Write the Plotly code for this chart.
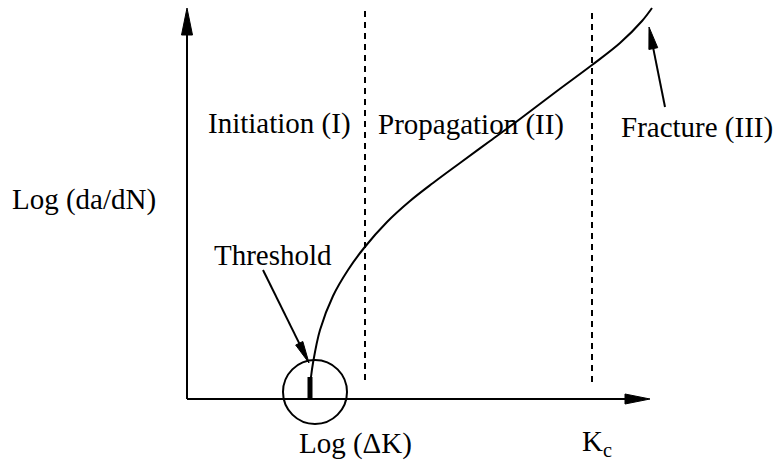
import math
import plotly.graph_objects as go

# Schematic crack-growth curve: log(ΔK) on x, log(da/dN) on y (arbitrary units)
log_dk = [124, 126, 133, 146, 161, 177, 200, 223, 246, 273, 303, 333, 370, 405,
          433, 455, 465]
log_dadn = [22, 36, 69, 103, 129, 151, 177, 198, 216, 236, 258, 280, 308, 334,
            356, 378, 391]

# Threshold marker and regime boundaries
threshold_x = 123
threshold_top = 22
boundary_x = [178, 405]
boundary_top = 389
boundary_bottom = [19, 17]

# Axis extents (arrow tips)
x_axis_end = 463
y_axis_end = 391

regime_labels = ["Initiation (I)", "Propagation (II)", "Fracture (III)"]

FONT = dict(family="Liberation Serif, Times New Roman, serif", size=29, color="black")
LW = 2

fig = go.Figure()

# Main curve
fig.add_trace(go.Scatter(
    x=log_dk, y=log_dadn, mode="lines",
    line=dict(color="black", width=LW, shape="spline", smoothing=1.0),
    hoverinfo="skip", showlegend=False,
))

shapes = []


def arrow(x0, y0, x1, y1, head_len, head_w, width=LW):
    """Line from (x0,y0) to (x1,y1) ending in a filled triangular head."""
    dx, dy = x1 - x0, y1 - y0
    d = math.hypot(dx, dy)
    ux, uy = dx / d, dy / d
    bx, by = x1 - ux * head_len, y1 - uy * head_len
    px, py = -uy * head_w / 2, ux * head_w / 2
    shapes.append(dict(type="line", x0=x0, y0=y0, x1=bx + ux * 2, y1=by + uy * 2,
                       line=dict(color="black", width=width)))
    shapes.append(dict(
        type="path",
        path=f"M {x1},{y1} L {bx + px},{by + py} L {bx - px},{by - py} Z",
        fillcolor="black", line=dict(color="black", width=1),
    ))


# Axes with arrowheads
arrow(0, 0, x_axis_end, 0, 25, 10)
arrow(0, 0, 0, y_axis_end, 27, 11)

# Regime boundaries
for bx, bb in zip(boundary_x, boundary_bottom):
    shapes.append(dict(type="line", x0=bx, x1=bx, y0=bb, y1=boundary_top,
                       line=dict(color="black", width=LW, dash="6px,5px")))

# Threshold bar and circle
shapes.append(dict(type="line", x0=threshold_x, x1=threshold_x, y0=0, y1=threshold_top,
                   line=dict(color="black", width=5)))
shapes.append(dict(type="circle", x0=96, x1=160, y0=-25, y1=39,
                   line=dict(color="black", width=LW)))

# Pointer arrows
arrow(76, 129, 122, 36, 22, 8)
arrow(478, 292, 462, 372, 22, 9)

fig.update_layout(shapes=shapes)

annotations = [
    dict(x=-103, y=200, text="Log (da/dN)"),
    dict(x=92, y=276, text=regime_labels[0]),
    dict(x=284, y=275, text=regime_labels[1]),
    dict(x=510, y=272, text=regime_labels[2]),
    dict(x=86, y=144, text="Threshold"),
    dict(x=168, y=-44, text="Log (ΔK)"),
    dict(x=393, y=-44, text="K<sub>c</sub>", xanchor="left"),
]
for a in annotations:
    a.setdefault("xanchor", "center")
    fig.add_annotation(**a, showarrow=False, yanchor="middle", font=FONT)

fig.update_layout(
    width=776, height=460,
    margin=dict(l=0, r=0, t=0, b=0),
    paper_bgcolor="white", plot_bgcolor="white",
    xaxis=dict(range=[-187, 589], visible=False, fixedrange=True),
    yaxis=dict(range=[-61, 399], visible=False, fixedrange=True),
    showlegend=False,
)

fig.write_html("out.html")
